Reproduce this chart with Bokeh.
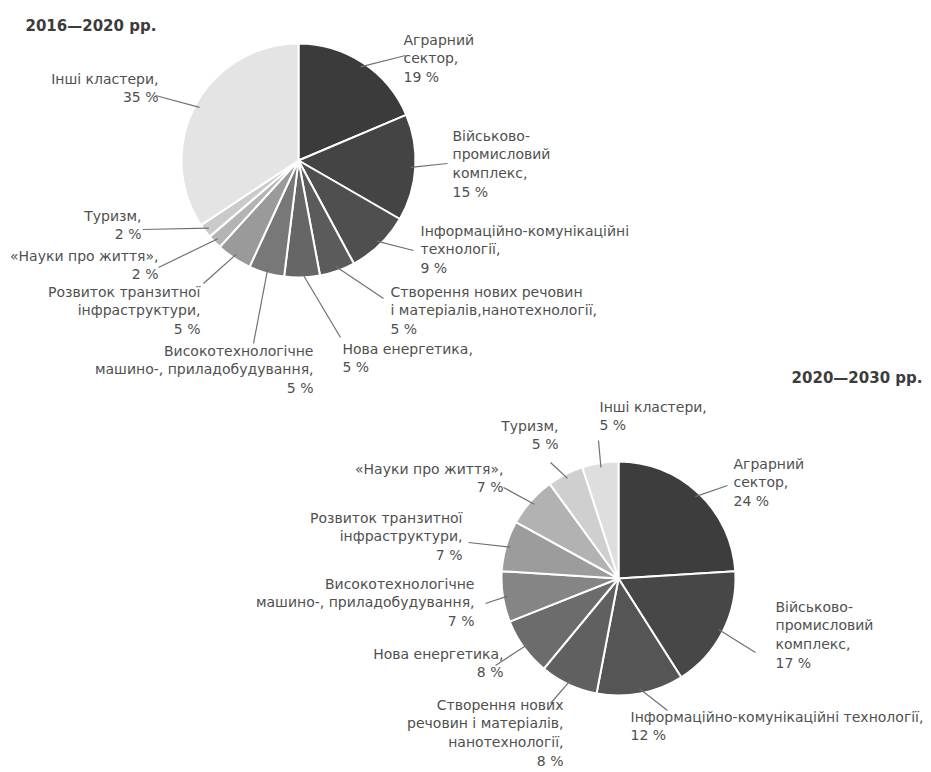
import math
from bokeh.plotting import figure
from bokeh.models import Range1d, ColumnDataSource
from bokeh.core.properties import value
from bokeh.embed import file_html
from bokeh.resources import INLINE

W, H = 931, 772
FONT = "DejaVu Sans"

# --- data -------------------------------------------------------------
names_2016 = [
    "Аграрний\nсектор",
    "Військово-\nпромисловий\nкомплекс",
    "Інформаційно-комунікаційні\nтехнології",
    "Створення нових речовин\nі матеріалів,нанотехнології",
    "Нова енергетика",
    "Високотехнологічне\nмашино-, приладобудування",
    "Розвиток транзитної\nінфраструктури",
    "«Науки про життя»",
    "Туризм",
    "Інші кластери",
]
shares_2016 = [19, 15, 9, 5, 5, 5, 5, 2, 2, 35]

names_2020 = [
    "Аграрний\nсектор",
    "Військово-\nпромисловий\nкомплекс",
    "Інформаційно-комунікаційні технології",
    "Створення нових\nречовин і матеріалів,\nнанотехнології",
    "Нова енергетика",
    "Високотехнологічне\nмашино-, приладобудування",
    "Розвиток транзитної\nінфраструктури",
    "«Науки про життя»",
    "Туризм",
    "Інші кластери",
]
shares_2020 = [24, 17, 12, 8, 8, 7, 7, 7, 5, 5]

title_2016 = "2016—2020 рр."
title_2020 = "2020—2030 рр."

# --- styling / layout (page pixels, y downwards) -----------------------
colors_2016 = ["#3b3b3b", "#444444", "#4f4f4f", "#5b5b5b", "#666666",
               "#787878", "#9a9a9a", "#b4b4b4", "#cacaca", "#e4e4e4"]
colors_2020 = ["#3d3d3d", "#474747", "#555555", "#606060", "#6c6c6c",
               "#858585", "#9c9c9c", "#b2b2b2", "#cfcfcf", "#dedede"]

pie_2016 = dict(cx=298, cy=160, r=117)
pie_2020 = dict(cx=618, cy=578, r=117)

# (align, text x, text top y, leader end x, leader end y)
place_2016 = [
    ("left", 403, 31, 405, 55),
    ("left", 452, 127, 447, 163),
    ("left", 420, 222, 413, 250),
    ("left", 390, 283, 383, 298),
    ("left", 342, 340, 340, 337),
    ("right", 313, 342, 253, 343),
    ("right", 200, 283, 203, 283),
    ("right", 158, 247, 158, 267),
    ("right", 141, 207, 142, 229),
    ("right", 158, 70, 155, 95),
]
place_2020 = [
    ("left", 733, 455, 727, 485),
    ("left", 775, 598, 755, 652),
    ("left", 630, 708, 667, 710),
    ("right", 563, 696, 550, 703),
    ("right", 503, 645, 495, 665),
    ("right", 474, 575, 485, 603),
    ("right", 462, 509, 468, 542),
    ("right", 503, 460, 503, 487),
    ("right", 558, 417, 550, 462),
    ("left", 599, 398, 598, 440),
]

LABEL_SIZE = "14px"
LINE_HEIGHT = 1.17


def fy(y):
    """page y (downwards) -> data y (upwards)"""
    return H - y


p = figure(width=W, height=H, x_range=Range1d(0, W), y_range=Range1d(0, H),
           output_backend="svg", toolbar_location=None, min_border=0)
p.axis.visible = False
p.grid.visible = False
p.outline_line_color = None
p.background_fill_color = "white"
p.border_fill_color = "white"


def draw_pie(names, shares, colors, pie, place):
    total = float(sum(shares))
    cx, cy, r = pie["cx"], fy(pie["cy"]), pie["r"]
    starts, ends, mids = [], [], []
    acc = 0.0
    for s in shares:
        a0 = acc / total
        acc += s
        a1 = acc / total
        starts.append(math.pi / 2 - 2 * math.pi * a0)
        ends.append(math.pi / 2 - 2 * math.pi * a1)
        mids.append(math.pi / 2 - 2 * math.pi * (a0 + a1) / 2)

    src = ColumnDataSource(dict(x=[cx] * len(shares), y=[cy] * len(shares),
                                start=starts, end=ends, color=colors))
    p.wedge(x="x", y="y", radius=r, start_angle="start", end_angle="end",
            direction="clock", fill_color="color", line_color="white",
            line_width=2, source=src)

    # leader lines from each slice's mid-angle to its label
    x0 = [cx + 0.96 * r * math.cos(m) for m in mids]
    y0 = [cy + 0.96 * r * math.sin(m) for m in mids]
    x1 = [pl[3] for pl in place]
    y1 = [fy(pl[4]) for pl in place]
    p.segment(x0=x0, y0=y0, x1=x1, y1=y1, line_color="#707070", line_width=1.2)

    for align in ("left", "right"):
        idx = [i for i, pl in enumerate(place) if pl[0] == align]
        if not idx:
            continue
        p.text(x=[place[i][1] for i in idx], y=[fy(place[i][2]) for i in idx],
               text=[f"{names[i]},\n{shares[i]} %" for i in idx],
               text_align=align, text_baseline="top",
               text_font=value(FONT), text_font_size=LABEL_SIZE,
               text_line_height=LINE_HEIGHT, text_color="#505050")


draw_pie(names_2016, shares_2016, colors_2016, pie_2016, place_2016)
draw_pie(names_2020, shares_2020, colors_2020, pie_2020, place_2020)

p.text(x=[25], y=[fy(16)], text=[title_2016], text_align="left",
       text_baseline="top", text_font=value(FONT), text_font_size="15px",
       text_font_style="bold", text_color="#3c3c3c")
p.text(x=[922], y=[fy(368)], text=[title_2020], text_align="right",
       text_baseline="top", text_font=value(FONT), text_font_size="15px",
       text_font_style="bold", text_color="#3c3c3c")

open("out.html", "w").write(file_html(p, INLINE))
